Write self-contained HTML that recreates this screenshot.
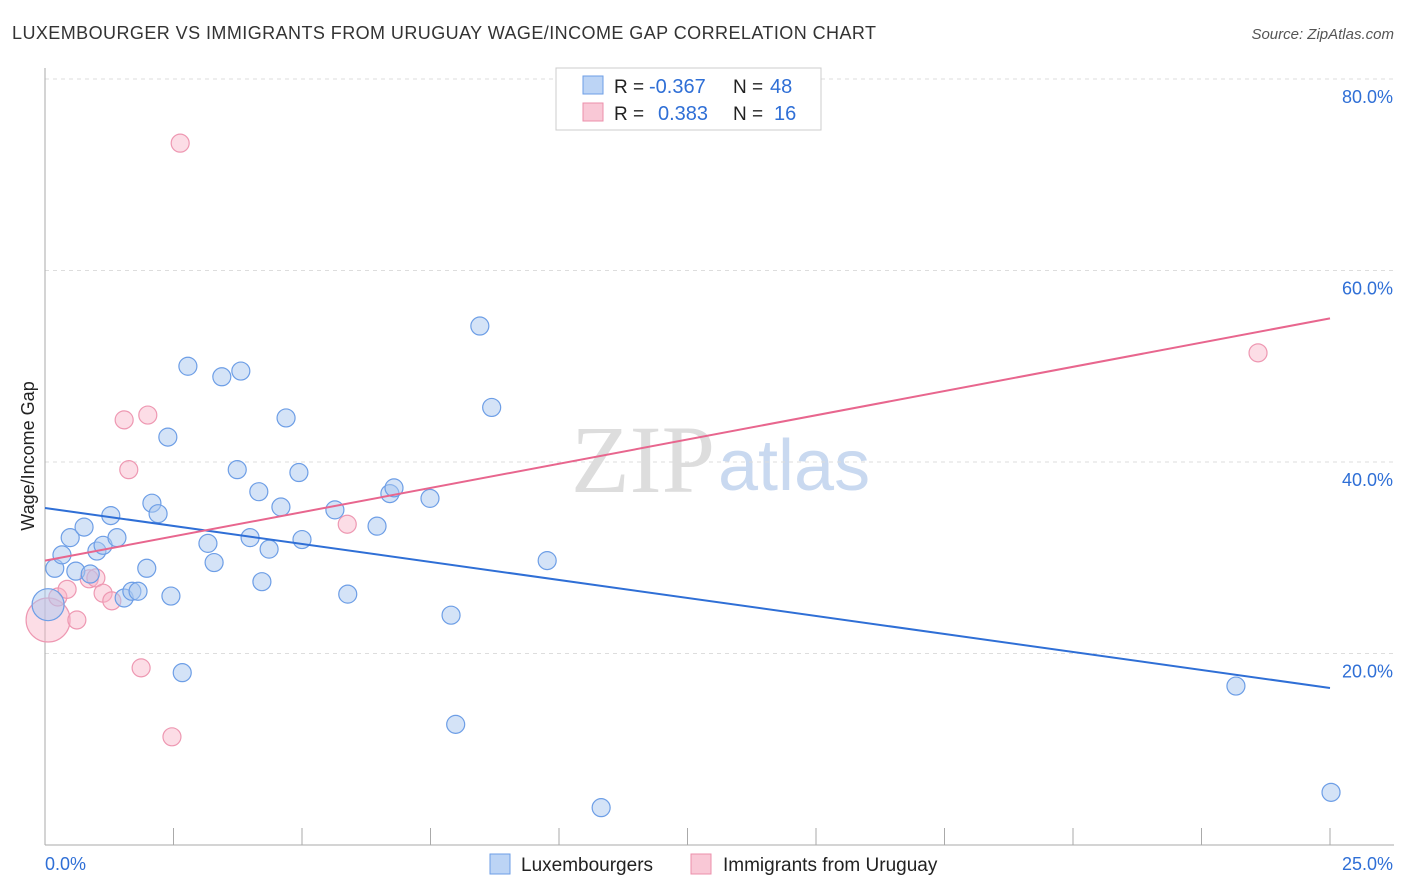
<!DOCTYPE html>
<html><head><meta charset="utf-8"><style>
body{margin:0;background:#fff;font-family:"Liberation Sans",sans-serif;}
svg{display:block}
</style></head><body>
<svg width="1406" height="892" id="c">
<text x="12" y="39" font-size="18" fill="#333" textLength="864">LUXEMBOURGER VS IMMIGRANTS FROM URUGUAY WAGE/INCOME GAP CORRELATION CHART</text>
<text x="1394" y="39" font-size="15" fill="#555" font-style="italic" text-anchor="end">Source: ZipAtlas.com</text>
<text x="715" y="492" font-size="96" fill="#ddd" font-family="Liberation Serif,serif" text-anchor="end">ZIP</text>
<text x="718" y="490" font-size="72" fill="#c9d9f0" text-anchor="start">atlas</text>
<text transform="translate(34,456) rotate(-90)" font-size="18" fill="#222" text-anchor="middle">Wage/Income Gap</text>
<g id="grid"></g><g id="axes"></g><g id="marks"></g>
<g>
<rect x="556" y="68" width="265" height="62" fill="#fff" stroke="#ccc"/>
<rect x="583" y="76" width="20" height="18" fill="#bcd4f5" stroke="#6d9ee6"/>
<rect x="583" y="103" width="20" height="18" fill="#f9c8d6" stroke="#ec8fab"/>
<text x="614" y="93" font-size="19" fill="#222">R = <tspan x="649" fill="#2f6fd6" font-size="20">-0.367</tspan><tspan x="733">N = </tspan><tspan x="770" fill="#2f6fd6" font-size="20">48</tspan></text>
<text x="614" y="120" font-size="19" fill="#222">R = <tspan x="658" fill="#2f6fd6" font-size="20">0.383</tspan><tspan x="733">N = </tspan><tspan x="774" fill="#2f6fd6" font-size="20">16</tspan></text>
</g>
<g>
<rect x="490" y="854" width="20" height="20" fill="#bcd4f5" stroke="#6d9ee6"/>
<text x="521" y="871" font-size="19" fill="#222">Luxembourgers</text>
<rect x="691" y="854" width="20" height="20" fill="#f9c8d6" stroke="#ec8fab"/>
<text x="723" y="871" font-size="19" fill="#222">Immigrants from Uruguay</text>
</g>
</svg>
<script>
const blueX=[0.19,0.33,0.49,0.60,0.76,0.88,1.01,1.13,1.28,1.40,1.54,1.69,1.81,1.98,2.08,2.20,2.39,2.45,2.67,2.78,3.17,3.29,3.44,3.74,3.81,3.99,4.16,4.22,4.36,4.59,4.69,4.94,5.00,5.64,5.89,6.46,6.71,6.79,7.49,7.90,7.99,8.46,8.69,9.77,10.82,23.17,25.02,0.06];
const blueY=[28.9,30.3,32.1,28.6,33.2,28.3,30.7,31.3,34.4,32.1,25.8,26.5,26.5,28.9,35.7,34.6,42.6,26.0,18.0,50.0,31.5,29.5,48.9,39.2,49.5,32.1,36.9,27.5,30.9,35.3,44.6,38.9,31.9,35.0,26.2,33.3,36.7,37.3,36.2,24.0,12.6,54.2,45.7,29.7,3.9,16.6,5.5,25.1];
const blueR=[9,9,9,9,9,9,9,9,9,9,9,9,9,9,9,9,9,9,9,9,9,9,9,9,9,9,9,9,9,9,9,9,9,9,9,9,9,9,9,9,9,9,9,9,9,9,9,16];
const pinkX=[0.06,0.25,0.43,0.62,0.86,0.99,1.13,1.30,1.54,1.63,1.87,2.00,2.47,2.63,5.88,23.60];
const pinkY=[23.5,25.9,26.7,23.5,27.8,27.9,26.3,25.5,44.4,39.2,18.5,44.9,11.3,73.3,33.5,51.4];
const pinkR=[22,9,9,9,9,9,9,9,9,9,9,9,9,9,9,9];
const blueLine=[[0,35.2],[25,16.4]];
const pinkLine=[[0,29.7],[25,55.0]];
const yTicks=[20,40,60,80];
const xTickLabels=["0.0%","25.0%"];
const NS="http://www.w3.org/2000/svg";
const sx=v=>45+v/25*1285, sy=v=>845-v/20*191.5;
function mk(tag,attrs,parent){const e=document.createElementNS(NS,tag);for(const k in attrs)e.setAttribute(k,attrs[k]);document.getElementById(parent).appendChild(e);return e;}
yTicks.forEach(t=>{
 const l=mk('line',{x1:45,x2:1394,y1:sy(t),y2:sy(t),stroke:'#ddd','stroke-dasharray':'4,4'},'grid');
 
 
 const tx=mk('text',{x:1393,y:sy(t)+24,'font-size':18,fill:'#2f6fd6','text-anchor':'end'},'grid');
 tx.textContent=t.toFixed(1)+'%';
 
 
});
const ax=mk('line',{x1:45,x2:1394,y1:845,y2:845,stroke:'#aaa'},'axes');


const ay=mk('line',{x1:45,x2:45,y1:68,y2:845,stroke:'#aaa'},'axes');


for(let i=1;i<=10;i++){const x=sx(i*2.5);
 const t=mk('line',{x1:x,x2:x,y1:828,y2:845,stroke:'#aaa'},'axes');
 
 }
[[0,'start',45],[1,'end',1393]].forEach(([i,a,x])=>{
 const t=mk('text',{x:x,y:870,'font-size':18,fill:'#2f6fd6','text-anchor':a},'axes');
 t.textContent=xTickLabels[i];
 
 });
function pts(X,Y,R,fill,stroke,name){X.forEach((x,i)=>{
 const c=mk('circle',{cx:sx(x),cy:sy(Y[i]),r:R[i],fill:fill,stroke:stroke,'stroke-width':1.2},'marks');
 
 });}
pts(pinkX,pinkY,pinkR,'rgba(248,180,200,0.45)','#ee98b2','point-uruguay');
pts(blueX,blueY,blueR,'rgba(170,200,240,0.5)','#6d9ee6','point-luxembourger');
const bl=mk('line',{x1:sx(blueLine[0][0]),y1:sy(blueLine[0][1]),x2:sx(blueLine[1][0]),y2:sy(blueLine[1][1]),stroke:'#2f6fd6','stroke-width':2},'marks');


const pl=mk('line',{x1:sx(pinkLine[0][0]),y1:sy(pinkLine[0][1]),x2:sx(pinkLine[1][0]),y2:sy(pinkLine[1][1]),stroke:'#e8668e','stroke-width':2},'marks');


</script>
</body></html>
